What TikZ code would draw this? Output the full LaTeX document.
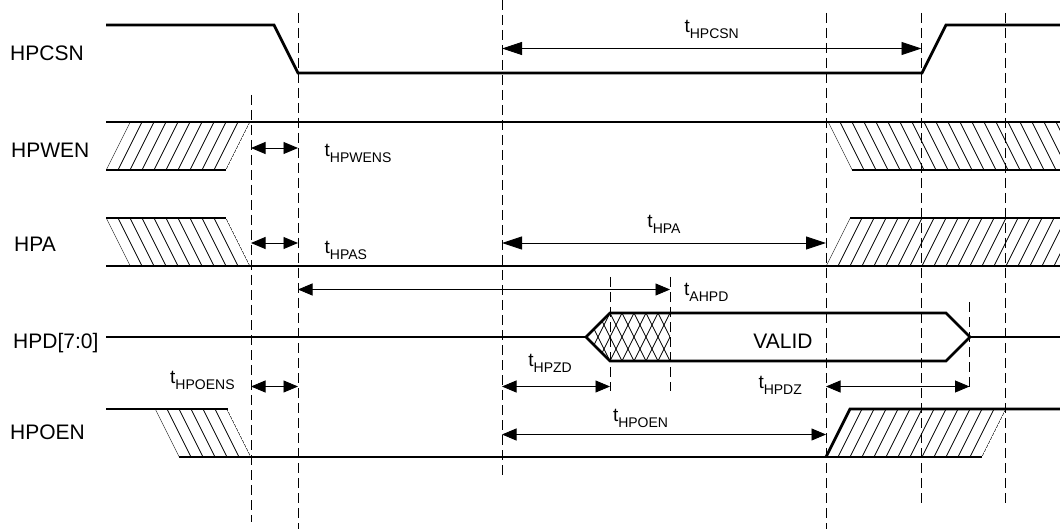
\documentclass[tikz,border=0pt]{standalone}
\usepackage{fontspec}
\setmainfont{Liberation Sans}
\usetikzlibrary{arrows.meta}

% timing parameter label: t with a lowered subscript
\newcommand{\tparam}[1]{t\raisebox{-6pt}{\fontsize{14}{14}\selectfont #1}}
% hatched band: bottom-left x, bottom-right x, bottom y, top y, slant
\newcommand{\hatchfill}[5]{%
  \begin{scope}
    \clip (#1,#3) -- (#2,#3) -- (#2+#5,#4) -- (#1+#5,#4) -- cycle;
    \foreach \k in {-48,-36,...,300}
      \draw[hatchline] (#1+\k,#3) -- (#1+\k+#5,#4);
  \end{scope}}

\begin{document}
\begin{tikzpicture}[x=1pt,y=-1pt,
    sig/.style={line width=2.8pt},
    guide/.style={line width=0.9pt, dash pattern=on 10pt off 5pt},
    hatchline/.style={line width=0.7pt},
    dimarr/.style={line width=0.9pt, {Triangle[length=14.5pt,width=12pt]}-{Triangle[length=14.5pt,width=12pt]}},
    longarr/.style={line width=0.9pt, {Triangle[length=20pt,width=13pt]}-{Triangle[length=20pt,width=13pt]}},
    signame/.style={font=\fontsize{21}{25}\selectfont, anchor=base west, inner sep=0pt},
    tlabel/.style={font=\fontsize{19}{22}\selectfont, inner sep=0pt}]
    \useasboundingbox (0,0) rectangle (1060,529);

    % Timing guides
    \draw[guide] (251,95) -- (251,522);
    \draw[guide] (298,13) -- (298,529);
    \draw[guide] (502,0) -- (502,476);
    \draw[guide] (610,277) -- (610,391);
    \draw[guide] (670,277) -- (670,391);
    \draw[guide] (826,13) -- (826,529);
    \draw[guide] (921.5,13) -- (921.5,505);
    \draw[guide] (969.5,302) -- (969.5,391);
    \draw[guide] (1005,13) -- (1005,505);

    % HPCSN
    \node[signame] (hpcsn) at (10,60.5) {HPCSN};
    \draw[sig] (106,25) -- (274,25) -- (298,73) -- (922,73) -- (946,25) -- (1060,25);

    % HPWEN
    \node[signame] (hpwen) at (11,158) {HPWEN};
    \hatchfill{106}{226}{170}{122}{24}
    \hatchfill{852}{1090}{170}{122}{-24}
    \draw[sig] (106,122) -- (1060,122);
    \draw[sig] (106,170) -- (226,170);
    \draw[sig] (852,170) -- (1060,170);

    % HPA
    \node[signame] (hpa) at (14,252) {HPA};
    \hatchfill{130}{250}{266}{218}{-24}
    \hatchfill{826}{1090}{266}{218}{24}
    \draw[sig] (106,218) -- (226,218);
    \draw[sig] (850,218) -- (1060,218);
    \draw[sig] (106,266) -- (1060,266);

    % HPD[7:0] bus
    \node[signame] (hpd) at (13,348) {HPD[7:0]};
    \begin{scope}
        \clip (586,337) -- (610,313) -- (670,313) -- (670,361) -- (610,361) -- cycle;
        \foreach \k in {0,12,...,96} {
            \draw[hatchline] (574+\k,361) -- (598+\k,313);
            \draw[hatchline] (574+\k,313) -- (598+\k,361);
        }
    \end{scope}
    \draw[sig] (106,337) -- (586,337);
    \draw[sig] (586,337) -- (610,313) -- (946,313) -- (970,337) -- (946,361) -- (610,361) -- cycle;
    \draw[line width=1.8pt] (970,337) -- (1060,337);
    \node[font=\fontsize{21}{25}\selectfont, anchor=base, inner sep=0pt] (valid) at (783,348.5) {VALID};

    % HPOEN
    \node[signame] (hpoen) at (10,439) {HPOEN};
    \hatchfill{179}{251}{457}{409}{-24}
    \hatchfill{826}{982}{457}{409}{24}
    \draw[sig] (106,409) -- (228,409);
    \draw[sig] (179,457) -- (982,457);
    \draw[sig] (826,457) -- (850,409) -- (1060,409);

    % Timing parameters
    \coordinate (csnL) at (502,48.5);   \coordinate (csnR) at (921.5,48.5);
    \coordinate (wensL) at (251,148);   \coordinate (wensR) at (298,148);
    \coordinate (asL) at (251,243);     \coordinate (asR) at (298,243);
    \coordinate (paL) at (502,243);     \coordinate (paR) at (826,243);
    \coordinate (ahpdL) at (298,289.5); \coordinate (ahpdR) at (670,289.5);
    \coordinate (oensL) at (251,386.5); \coordinate (oensR) at (298,386.5);
    \coordinate (pzdL) at (502,386.5);  \coordinate (pzdR) at (610,386.5);
    \coordinate (pdzL) at (826,386.5);  \coordinate (pdzR) at (969.5,386.5);
    \coordinate (poenL) at (502,434.5); \coordinate (poenR) at (826,434.5);

    \draw[longarr] (csnL) -- (csnR);
    \draw[dimarr] (wensL) -- (wensR);
    \draw[dimarr] (asL) -- (asR);
    \draw[longarr] (paL) -- (paR);
    \draw[dimarr] (ahpdL) -- (ahpdR);
    \draw[dimarr] (oensL) -- (oensR);
    \draw[dimarr] (pzdL) -- (pzdR);
    \draw[dimarr] (pdzL) -- (pdzR);
    \draw[dimarr] (poenL) -- (poenR);

    \node[tlabel, anchor=south] (tcsn) at (711.7,39) {\tparam{HPCSN}};
    \node[tlabel, anchor=south west] (twens) at (324.5,163) {\tparam{HPWENS}};
    \node[tlabel, anchor=south west] (tas) at (324.5,260) {\tparam{HPAS}};
    \node[tlabel, anchor=south] (tpa) at (664,234) {\tparam{HPA}};
    \node[tlabel, anchor=south west] (tahpd) at (684,302) {\tparam{AHPD}};
    \node[tlabel, anchor=south east] (tpzd) at (572,373) {\tparam{HPZD}};
    \node[tlabel, anchor=south west] (toens) at (170,389.5) {\tparam{HPOENS}};
    \node[tlabel, anchor=south west] (tpdz) at (758.3,395) {\tparam{HPDZ}};
    \node[tlabel, anchor=south west] (tpoen) at (612.8,428) {\tparam{HPOEN}};
\end{tikzpicture}
\end{document}
